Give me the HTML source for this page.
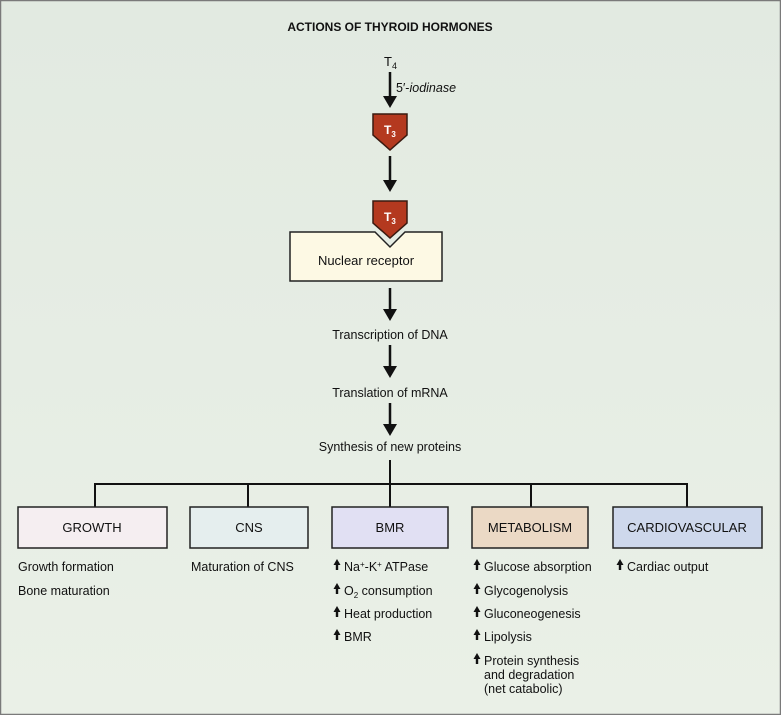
<!DOCTYPE html>
<html><head><style>
html,body{margin:0;padding:0;width:781px;height:715px;overflow:hidden}
svg{display:block;font-family:"Liberation Sans",Arial,sans-serif}
</style></head><body>
<svg width="781" height="715" viewBox="0 0 781 715">
<defs>
<linearGradient id="bg" x1="0" y1="0" x2="0" y2="1">
<stop offset="0" stop-color="#e2eae1"/><stop offset="1" stop-color="#eaf0e7"/>
</linearGradient>
</defs>
<rect x="0.5" y="0.5" width="780" height="714" fill="url(#bg)" stroke="#7a7a7a" stroke-width="1.5"/>
<text x="390" y="31" text-anchor="middle" font-size="12" font-weight="bold" fill="#111">ACTIONS OF THYROID HORMONES</text>
<text x="384" y="66" font-size="13" fill="#111">T<tspan font-size="9" dy="3">4</tspan></text>
<text x="396" y="92" font-size="12.5" fill="#111">5′-<tspan font-style="italic">iodinase</tspan></text>
<g stroke="#111" stroke-width="2.5" fill="none">
<line x1="390" y1="72" x2="390" y2="98"/>
<line x1="390" y1="156" x2="390" y2="182"/>
<line x1="390" y1="288" x2="390" y2="310"/>
<line x1="390" y1="345" x2="390" y2="368"/>
<line x1="390" y1="403" x2="390" y2="426"/>
</g>
<g fill="#111">
<path d="M383,96 L397,96 L390,108 Z"/>
<path d="M383,180 L397,180 L390,192 Z"/>
<path d="M383,309 L397,309 L390,321 Z"/>
<path d="M383,366 L397,366 L390,378 Z"/>
<path d="M383,424 L397,424 L390,436 Z"/>
</g>
<path d="M373,114 L407,114 L407,135 L390,150 L373,135 Z" fill="#b4391f" stroke="#3a1a10" stroke-width="1.5"/>
<text x="384" y="134" font-size="12" font-weight="bold" fill="#fff">T<tspan font-size="8" dy="3">3</tspan></text>
<path d="M290,232 L375,232 L390,247 L405,232 L442,232 L442,281 L290,281 Z" fill="#fdf9e4" stroke="#222" stroke-width="1.5"/>
<path d="M373,201 L407,201 L407,223 L390,238 L373,223 Z" fill="#b4391f" stroke="#3a1a10" stroke-width="1.5"/>
<text x="384" y="221" font-size="12" font-weight="bold" fill="#fff">T<tspan font-size="8" dy="3">3</tspan></text>
<text x="366" y="265" text-anchor="middle" font-size="13" fill="#111">Nuclear receptor</text>
<text x="390" y="339" text-anchor="middle" font-size="12.5" fill="#111">Transcription of DNA</text>
<text x="390" y="397" text-anchor="middle" font-size="12.5" fill="#111">Translation of mRNA</text>
<text x="390" y="451" text-anchor="middle" font-size="12.5" fill="#111">Synthesis of new proteins</text>
<g stroke="#111" stroke-width="2" fill="none">
<line x1="390" y1="460" x2="390" y2="507"/>
<polyline points="95,507 95,484 687,484 687,507"/>
<line x1="248" y1="484" x2="248" y2="507"/>
<line x1="531" y1="484" x2="531" y2="507"/>
</g>
<g stroke="#222" stroke-width="1.5">
<rect x="18" y="507" width="149" height="41" fill="#f5eef1"/>
<rect x="190" y="507" width="118" height="41" fill="#e5eeee"/>
<rect x="332" y="507" width="116" height="41" fill="#e1e0f3"/>
<rect x="472" y="507" width="116" height="41" fill="#ebd9c5"/>
<rect x="613" y="507" width="149" height="41" fill="#ced8ec"/>
</g>
<g font-size="13" fill="#111" text-anchor="middle">
<text x="92" y="532">GROWTH</text>
<text x="249" y="532">CNS</text>
<text x="390" y="532">BMR</text>
<text x="530" y="532">METABOLISM</text>
<text x="687" y="532">CARDIOVASCULAR</text>
</g>
<g font-size="12.5" fill="#111">
<text x="18" y="571">Growth formation</text>
<text x="18" y="595">Bone maturation</text>
<text x="191" y="571">Maturation of CNS</text>
<text x="344" y="571">Na<tspan font-size="8" dy="-4">+</tspan><tspan dy="4">-K</tspan><tspan font-size="8" dy="-4">+</tspan><tspan dy="4"> ATPase</tspan></text>
<text x="344" y="595">O<tspan font-size="8" dy="3">2</tspan><tspan dy="-3"> consumption</tspan></text>
<text x="344" y="618">Heat production</text>
<text x="344" y="641">BMR</text>
<text x="484" y="571">Glucose absorption</text>
<text x="484" y="595">Glycogenolysis</text>
<text x="484" y="618">Gluconeogenesis</text>
<text x="484" y="641">Lipolysis</text>
<text x="484" y="665">Protein synthesis</text>
<text x="484" y="679">and degradation</text>
<text x="484" y="693">(net catabolic)</text>
<text x="627" y="571">Cardiac output</text>
</g>
<g fill="#111">
<path id="ua" d="M0,-11 L-3.5,-5 L-1.2,-5 L-1.2,0 L1.2,0 L1.2,-5 L3.5,-5 Z" transform="translate(337,570)"/>
<use href="#ua" transform="translate(0,24)"/>
<use href="#ua" transform="translate(0,47)"/>
<use href="#ua" transform="translate(0,70)"/>
<use href="#ua" transform="translate(140,0)"/>
<use href="#ua" transform="translate(140,24)"/>
<use href="#ua" transform="translate(140,47)"/>
<use href="#ua" transform="translate(140,70)"/>
<use href="#ua" transform="translate(140,94)"/>
<use href="#ua" transform="translate(283,0)"/>
</g>
</svg>
</body></html>
